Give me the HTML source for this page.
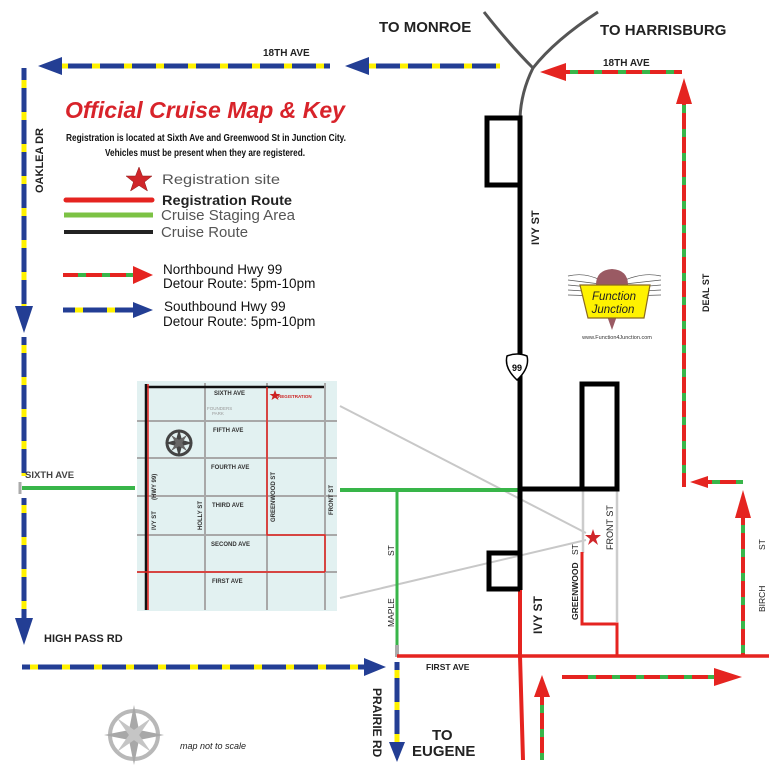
<!DOCTYPE html>
<html><head><meta charset="utf-8"><style>
html,body{margin:0;padding:0;background:#fff;}
svg{display:block;}
text{font-family:"Liberation Sans",sans-serif;}
</style></head><body>
<svg width="769" height="780" viewBox="0 0 769 780" xmlns="http://www.w3.org/2000/svg">
<rect width="769" height="780" fill="#fff"/>

<!-- Inset map -->
<rect x="137" y="381" width="200" height="230" fill="#e2f1f1"/>
<g stroke="#a8a8a8" stroke-width="2">
<line x1="137" y1="421" x2="337" y2="421"/>
<line x1="137" y1="458" x2="337" y2="458"/>
<line x1="137" y1="496" x2="337" y2="496"/>
<line x1="137" y1="535" x2="337" y2="535"/>
<line x1="137" y1="572" x2="337" y2="572"/>
<line x1="205" y1="383" x2="205" y2="610"/>
<line x1="267" y1="383" x2="267" y2="610"/>
<line x1="325" y1="383" x2="325" y2="610"/>
</g>
<line x1="146" y1="387" x2="324" y2="387" stroke="#111" stroke-width="2.5"/>
<line x1="146" y1="384" x2="146" y2="610" stroke="#111" stroke-width="2.5"/>
<line x1="148" y1="384" x2="148" y2="610" stroke="#e52420" stroke-width="1.5"/>
<polyline points="267,387 267,535 325,535 325,572" fill="none" stroke="#e52420" stroke-width="1.5"/>
<line x1="137" y1="572" x2="325" y2="572" stroke="#e52420" stroke-width="1.5"/>
<g font-size="6" font-weight="bold" fill="#333">
<text x="214" y="395">SIXTH AVE</text>
<text x="213" y="432">FIFTH AVE</text>
<text x="211" y="469">FOURTH AVE</text>
<text x="212" y="507">THIRD AVE</text>
<text x="211" y="546">SECOND AVE</text>
<text x="212" y="583">FIRST AVE</text>
<text transform="translate(156,530) rotate(-90)">IVY ST</text>
<text transform="translate(156,500) rotate(-90)">(HWY 99)</text>
<text transform="translate(202,530) rotate(-90)">HOLLY ST</text>
<text transform="translate(275,522) rotate(-90)">GREENWOOD ST</text>
<text transform="translate(333,515) rotate(-90)">FRONT ST</text>
</g>
<text x="207" y="410" font-size="4.5" fill="#999">FOUNDERS</text>
<text x="212" y="415" font-size="4.5" fill="#999">PARK</text>
<text x="278" y="398" font-size="4.5" font-weight="bold" fill="#c22">REGISTRATION</text>
<polygon points="275,390 276.5,394 280.5,394 277.3,396.4 278.5,400 275,397.8 271.5,400 272.7,396.4 269.5,394 273.5,394" fill="#c22"/>
<g transform="translate(179,443)">
<circle r="12" fill="none" stroke="#444" stroke-width="3"/>
<polygon points="0,-14 3,-3 14,0 3,3 0,14 -3,3 -14,0 -3,-3" fill="#444"/>
<polygon points="-8,-8 2,-2 8,8 -2,2" fill="#666"/>
<polygon points="8,-8 2,2 -8,8 -2,-2" fill="#666"/>
</g>

<!-- leader lines -->
<line x1="340" y1="406" x2="586" y2="533" stroke="#c8c8c8" stroke-width="2"/>
<line x1="340" y1="598" x2="586" y2="540" stroke="#c8c8c8" stroke-width="2"/>

<!-- Green staging -->
<line x1="22" y1="488" x2="135" y2="488" stroke="#38b549" stroke-width="4"/>
<line x1="340" y1="490" x2="520" y2="490" stroke="#38b549" stroke-width="4"/>
<line x1="397" y1="490" x2="397" y2="645" stroke="#38b549" stroke-width="3"/>
<line x1="397" y1="645" x2="397" y2="657" stroke="#aaa" stroke-width="4"/>
<line x1="20" y1="482" x2="20" y2="494" stroke="#aaa" stroke-width="3"/>

<!-- gray streets -->
<line x1="583" y1="490" x2="583" y2="553" stroke="#ccc" stroke-width="2.5"/>
<line x1="617" y1="490" x2="617" y2="622" stroke="#ccc" stroke-width="2.5"/>

<!-- Red registration route -->
<line x1="397" y1="656" x2="769" y2="656" stroke="#e52420" stroke-width="3.5"/>
<polyline points="520,588 520,656 523,760" fill="none" stroke="#e52420" stroke-width="4"/>
<polyline points="582,552 582,624 617,624 617,656" fill="none" stroke="#e52420" stroke-width="3"/>
<polygon points="593,529 595,535 601,535 596,539 598,545 593,541 588,545 590,539 585,535 591,535" fill="#d0262a"/>

<!-- Black cruise route -->
<path d="M484,12 Q510,45 533,68 Q555,40 598,12" fill="none" stroke="#555" stroke-width="3"/>
<path d="M533,68 Q521,92 520,118" fill="none" stroke="#555" stroke-width="3"/>
<g fill="none" stroke="#000" stroke-width="5">
<line x1="520" y1="117" x2="520" y2="590"/>
<rect x="487" y="118" width="33" height="67"/>
<rect x="582" y="384" width="35" height="105"/>
<line x1="520" y1="489" x2="617" y2="489"/>
<polyline points="520,553 489,553 489,589 520,589"/>
</g>
<path d="M507,356 Q517,352 527,356 Q530,368 517,380 Q504,368 507,356 Z" fill="#fff" stroke="#000" stroke-width="1.5"/>
<text x="517" y="371" font-size="9" font-weight="bold" text-anchor="middle">99</text>

<!-- Blue/Yellow southbound detour -->
<g stroke-width="5" fill="none">
<g stroke="#233e94">
<line x1="55" y1="66" x2="330" y2="66"/>
<line x1="362" y1="66" x2="500" y2="66"/>
<line x1="24" y1="68" x2="24" y2="308"/>
<line x1="24" y1="337" x2="24" y2="476"/>
<line x1="24" y1="498" x2="24" y2="622"/>
<line x1="22" y1="667" x2="368" y2="667"/>
<line x1="397" y1="662" x2="397" y2="745"/>
<line x1="63" y1="310" x2="140" y2="310"/>
</g>
<g stroke="#fff200" stroke-dasharray="8 24">
<line x1="60" y1="66" x2="330" y2="66"/>
<line x1="368" y1="66" x2="500" y2="66"/>
<line x1="24" y1="80" x2="24" y2="308"/>
<line x1="24" y1="345" x2="24" y2="476"/>
<line x1="24" y1="505" x2="24" y2="622"/>
<line x1="30" y1="667" x2="368" y2="667"/>
<line x1="397" y1="670" x2="397" y2="745"/>
<line x1="75" y1="310" x2="140" y2="310"/>
</g>
</g>
<g fill="#233e94">
<polygon points="38,66 62,57 62,75"/>
<polygon points="345,66 369,57 369,75"/>
<polygon points="24,333 15,306 33,306"/>
<polygon points="24,645 15,618 33,618"/>
<polygon points="386,667 364,658 364,676"/>
<polygon points="397,762 389,742 405,742"/>
<polygon points="153,310 133,302 133,318"/>
</g>

<!-- Red/Green northbound detour -->
<g stroke-width="4" fill="none">
<g stroke="#e52420">
<line x1="560" y1="72" x2="682" y2="72"/>
<line x1="684" y1="98" x2="684" y2="487"/>
<line x1="706" y1="482" x2="743" y2="482"/>
<line x1="743" y1="515" x2="743" y2="656"/>
<line x1="562" y1="677" x2="722" y2="677"/>
<line x1="542" y1="695" x2="542" y2="760"/>
<line x1="63" y1="275" x2="135" y2="275"/>
</g>
<g stroke="#38b549" stroke-dasharray="8 16">
<line x1="570" y1="72" x2="682" y2="72"/>
<line x1="684" y1="105" x2="684" y2="487"/>
<line x1="712" y1="482" x2="743" y2="482"/>
<line x1="743" y1="525" x2="743" y2="656"/>
<line x1="588" y1="677" x2="722" y2="677"/>
<line x1="542" y1="705" x2="542" y2="760"/>
<line x1="78" y1="275" x2="135" y2="275"/>
</g>
</g>
<g fill="#e52420">
<polygon points="540,72 566,63 566,81"/>
<polygon points="684,78 676,104 692,104"/>
<polygon points="690,482 708,476 708,488"/>
<polygon points="743,490 735,518 751,518"/>
<polygon points="742,677 714,668 714,686"/>
<polygon points="542,675 534,697 550,697"/>
<polygon points="153,275 133,266 133,284"/>
</g>

<!-- Legend -->
<text x="65" y="118" font-size="23" font-weight="bold" font-style="italic" fill="#d8232a" textLength="280" lengthAdjust="spacingAndGlyphs">Official Cruise Map &amp; Key</text>
<text x="66" y="141" font-size="10" font-weight="bold" fill="#111" textLength="280" lengthAdjust="spacingAndGlyphs">Registration is located at Sixth Ave and Greenwood St in Junction City.</text>
<text x="105" y="156" font-size="10" font-weight="bold" fill="#111" textLength="200" lengthAdjust="spacingAndGlyphs">Vehicles must be present when they are registered.</text>
<polygon points="139,167 142.5,176 152,176 144.5,182 147.5,191 139,185.5 130.5,191 133.5,182 126,176 135.5,176" fill="#d0262a" stroke="#8a1a1a" stroke-width="0.5"/>
<text x="162" y="184" font-size="14" fill="#555" font-family="DejaVu Sans" textLength="118" lengthAdjust="spacingAndGlyphs">Registration site</text>
<line x1="66" y1="200" x2="152" y2="200" stroke="#e52420" stroke-width="5" stroke-linecap="round"/>
<text x="162" y="205" font-size="13.5" font-weight="bold" fill="#222" font-family="DejaVu Sans" textLength="130" lengthAdjust="spacingAndGlyphs">Registration Route</text>
<line x1="64" y1="215" x2="153" y2="215" stroke="#7cc244" stroke-width="5"/>
<text x="161" y="220" font-size="14.5" fill="#555" font-family="DejaVu Sans" textLength="134" lengthAdjust="spacingAndGlyphs">Cruise Staging Area</text>
<line x1="64" y1="232" x2="153" y2="232" stroke="#222" stroke-width="4"/>
<text x="161" y="237" font-size="14.5" fill="#555" font-family="DejaVu Sans" textLength="87" lengthAdjust="spacingAndGlyphs">Cruise Route</text>
<g font-size="13.5" fill="#111">
<text x="163" y="274">Northbound Hwy 99</text>
<text x="163" y="288">Detour Route:  5pm-10pm</text>
<text x="164" y="311">Southbound Hwy 99</text>
<text x="163" y="326">Detour Route:  5pm-10pm</text>
</g>

<!-- street labels -->
<g font-weight="bold" fill="#222">
<text x="379" y="32" font-size="15">TO  MONROE</text>
<text x="600" y="35" font-size="15">TO  HARRISBURG</text>
<text x="263" y="56" font-size="10">18TH    AVE</text>
<text x="603" y="66" font-size="10">18TH    AVE</text>
<text transform="translate(43,193) rotate(-90)" font-size="11">OAKLEA DR</text>
<text transform="translate(539,245) rotate(-90)" font-size="11">IVY ST</text>
<text transform="translate(709,312) rotate(-90)" font-size="9">DEAL   ST</text>
<text x="25" y="478" font-size="9.5" fill="#444">SIXTH AVE</text>
<text x="44" y="642" font-size="11">HIGH PASS RD</text>
<text x="426" y="670" font-size="8.5">FIRST    AVE</text>
<text transform="translate(394,627) rotate(-90)" font-size="8.5" font-weight="normal">MAPLE</text>
<text transform="translate(394,556) rotate(-90)" font-size="8.5" font-weight="normal">ST</text>
<text transform="translate(542,634) rotate(-90)" font-size="12">IVY   ST</text>
<text transform="translate(578,620) rotate(-90)" font-size="8.5">GREENWOOD</text>
<text transform="translate(578,555) rotate(-90)" font-size="8.5" font-weight="normal">ST</text>
<text transform="translate(613,550) rotate(-90)" font-size="9" font-weight="normal">FRONT  ST</text>
<text transform="translate(765,612) rotate(-90)" font-size="8.5" font-weight="normal">BIRCH</text>
<text transform="translate(765,550) rotate(-90)" font-size="8.5" font-weight="normal">ST</text>
<text transform="translate(373,688) rotate(90)" font-size="12">PRAIRIE RD</text>
<text x="432" y="740" font-size="15">TO</text>
<text x="412" y="756" font-size="15">EUGENE</text>
</g>
<text x="180" y="749" font-size="9" font-style="italic" fill="#222" font-family="DejaVu Sans">map not to scale</text>

<!-- compass -->
<g transform="translate(134,735)">
<circle r="24" fill="none" stroke="#b8b8b8" stroke-width="4"/>
<polygon points="0,-30 5,-5 30,0 5,5 0,30 -5,5 -30,0 -5,-5" fill="#a8a8a8"/>
<polygon points="-17,-17 3,-3 17,17 -3,3" fill="#c5c5c5"/>
<polygon points="17,-17 3,3 -17,17 -3,-3" fill="#c5c5c5"/>
</g>

<!-- logo -->
<g stroke="#555" stroke-width="0.7" fill="none">
<path d="M568,276 Q585,272 600,280"/><path d="M568,280 L600,284"/><path d="M568,285 L600,288"/><path d="M568,290 L600,292"/><path d="M568,295 L600,296"/>
<path d="M661,276 Q644,272 625,280"/><path d="M661,280 L625,284"/><path d="M661,285 L625,288"/><path d="M661,290 L625,292"/><path d="M661,295 L625,296"/>
</g>
<path d="M596,285 Q596,270 612,269 Q628,270 628,285 L612,330 Z" fill="#9a5a63"/>
<polygon points="580,285 650,285 644,318 588,318" fill="#fff200" stroke="#8a6a20" stroke-width="1.2"/>
<text x="614" y="300" font-size="11.5" font-style="italic" text-anchor="middle" fill="#222" font-family="DejaVu Sans">Function</text>
<text x="613" y="313" font-size="11.5" font-style="italic" text-anchor="middle" fill="#222" font-family="DejaVu Sans">Junction</text>
<text x="617" y="339" font-size="5.5" text-anchor="middle" fill="#333">www.Function4Junction.com</text>
</svg>
</body></html>
